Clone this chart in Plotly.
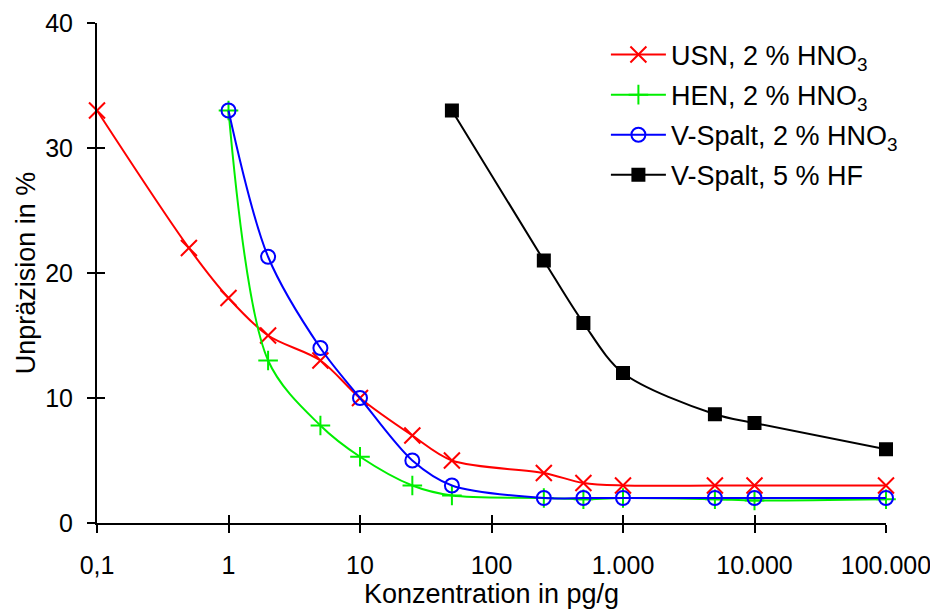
import plotly.graph_objects as go

# ---- data ----
usn_x = [0.1, 0.5, 1, 2, 5, 10, 25, 50, 250, 500, 1000, 5000, 10000, 100000]
usn_y = [33, 22, 18, 15, 13, 10, 7, 5, 4, 3.2, 3, 3, 3, 3]

hen_x = [1, 2, 5, 10, 25, 50, 250, 500, 1000, 5000, 10000, 100000]
hen_y = [33, 13, 7.8, 5.3, 3, 2.2, 2, 1.9, 2, 1.9, 1.8, 1.9]

vs_x = [1, 2, 5, 10, 25, 50, 250, 500, 1000, 5000, 10000, 100000]
vs_y = [33, 21.3, 14, 10, 5, 3, 2, 2, 2, 2, 2, 2]

hf_x = [50, 250, 500, 1000, 5000, 10000, 100000]
hf_y = [33, 21, 16, 12, 8.7, 8, 5.9]

x_tickvals = [0.1, 1, 10, 100, 1000, 10000, 100000]
x_ticktext = ["0,1", "1", "10", "100", "1.000", "10.000", "100.000"]
y_tickvals = [0, 10, 20, 30, 40]

names = ["USN, 2 % HNO<sub>3</sub>", "HEN, 2 % HNO<sub>3</sub>",
         "V-Spalt, 2 % HNO<sub>3</sub>", "V-Spalt, 5 % HF"]

FONT = "Liberation Sans, Arial, sans-serif"
FS = 22.5     # axis titles
TFS = 25      # tick labels
LFS = 27      # legend

fig = go.Figure()

def add(x, y, name, color, symbol, size, group, fill=None):
    fig.add_trace(go.Scatter(
        x=x, y=y, name=name, mode="lines+markers", legendgroup=group,
        line=dict(color=color, width=2, shape="spline", smoothing=0.9),
        marker=dict(symbol=symbol, size=size, color=fill if fill else color,
                    line=dict(color=color, width=2)),
        cliponaxis=False,
    ))

add(usn_x, usn_y, names[0], "#ff0000", "x-thin", 16, "a")
add(hen_x, hen_y, names[1], "#00ee00", "cross-thin", 14, "b")
add(vs_x, vs_y, names[2], "#0000ff", "circle-open", 14, "c")
add(hf_x, hf_y, names[3], "#000000", "square", 12, "d", fill="#000000")

# invisible trace for overlay axes (inside ticks -> crossing ticks)
fig.add_trace(go.Scatter(x=[1], y=[0], xaxis="x2", yaxis="y2",
                         mode="markers", marker=dict(opacity=0),
                         showlegend=False, hoverinfo="skip"))

axis_common = dict(showgrid=False, zeroline=False, showline=True,
                   linecolor="black", linewidth=2, tickcolor="black",
                   tickwidth=2, ticklen=8)

fig.update_layout(
    width=930, height=601,
    margin=dict(l=89, r=52, t=15, b=86, autoexpand=False),
    paper_bgcolor="white", plot_bgcolor="white",
    font=dict(family=FONT, size=FS, color="black"),
    xaxis=dict(type="log", range=[-1, 5], tickvals=x_tickvals,
               ticktext=x_ticktext, ticks="outside", ticklabelstandoff=11,
               title=dict(text="Konzentration in pg/g", standoff=1),
               tickfont=dict(size=TFS), **axis_common),
    yaxis=dict(range=[0, 40], tickvals=y_tickvals, ticks="outside",
               ticklabelstandoff=9,
               title=dict(text="Unpräzision in %", standoff=2),
               tickfont=dict(size=TFS), **axis_common),
    xaxis2=dict(type="log", range=[-1, 5], tickvals=x_tickvals,
                ticks="inside", showticklabels=False, overlaying="x",
                anchor="y2", **axis_common),
    yaxis2=dict(range=[0, 40], tickvals=y_tickvals, ticks="inside",
                showticklabels=False, overlaying="y", anchor="x2",
                **axis_common),
    legend=dict(x=0.645, y=0.985, xanchor="left", yanchor="top",
                bgcolor="rgba(0,0,0,0)", itemwidth=55,
                font=dict(size=LFS), tracegroupgap=2),
    showlegend=True,
)

fig.write_html("out.html")
